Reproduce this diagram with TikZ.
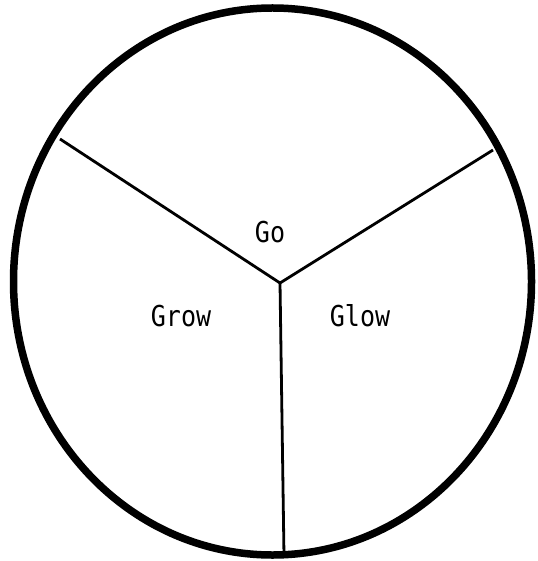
\documentclass[tikz,border=0pt]{standalone}
\usepackage{fontspec}
\newfontfamily\monofont{DejaVu Sans Mono}
\begin{document}
\begin{tikzpicture}[x=1pt,y=-1pt,
  rim/.style={line width=7.5pt},
  spoke/.style={line width=2.8pt},
  lbl/.style={font=\monofont\fontsize{25}{25}\selectfont, inner sep=0pt, yscale=1.15}]
\useasboundingbox (0,0) rectangle (537,561);
\draw[rim] (272.5,281.5) ellipse [x radius=259, y radius=273.5];
\coordinate (j) at (280,283);
\coordinate (l) at (60,139);
\coordinate (r) at (493,150);
\coordinate (b) at (284,556);
\draw[spoke] (l) -- (j) -- (r);
\draw[spoke] (j) -- (b);
\node[lbl] (go) at (270,232) {Go};
\node[lbl] (grow) at (181,316) {Grow};
\node[lbl] (glow) at (360,316) {Glow};
\end{tikzpicture}
\end{document}
